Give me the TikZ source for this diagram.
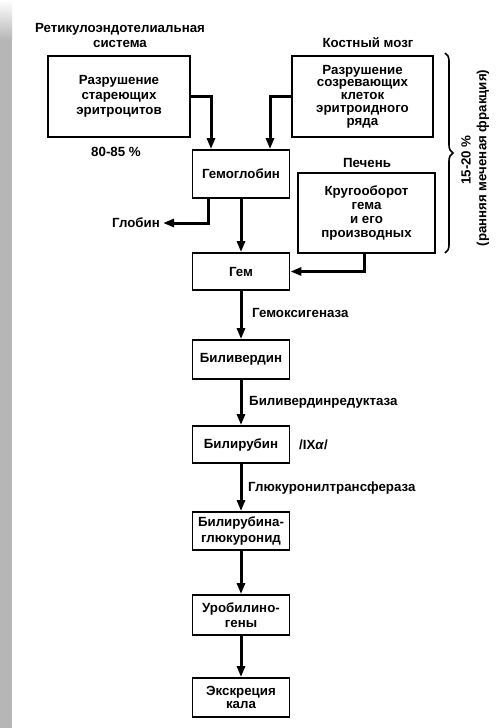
\documentclass[tikz,border=0pt]{standalone}
\usepackage{fontspec}
\setmainfont{Liberation Sans}
\usetikzlibrary{arrows.meta,decorations.pathreplacing}
\definecolor{strip}{RGB}{182,182,182}
\begin{document}
\begin{tikzpicture}[x=1pt,y=-1pt,
  font=\fontsize{13.3}{15}\selectfont\bfseries,
  blk/.style={draw,line width=1.8pt,inner sep=0pt,align=center},
  lbl/.style={inner sep=0pt,align=center},
  arr/.style={line width=3pt,-{Triangle[width=8pt,length=11pt]}}]
\useasboundingbox (0,0) rectangle (497,728);
\fill[white] (0,0) rectangle (497,728);
\fill[strip] (0,0) rectangle (12,728);
\shade[top color=white,bottom color=strip] (0,0) rectangle (12,40);
% boxes
\node[blk,minimum width=142pt,minimum height=81pt] (b1) at (119,96.5) {Разрушение\\стареющих\\эритроцитов};
\node[blk,minimum width=141pt,minimum height=81pt,font=\fontsize{13.3}{12.8}\selectfont\bfseries] (km) at (362.5,96.5) {Разрушение\\созревающих\\клеток\\эритроидного\\ряда};
\node[blk,minimum width=137pt,minimum height=80pt,font=\fontsize{13.3}{14}\selectfont\bfseries] (pe) at (366.5,213) {Кругооборот\\гема\\и его\\производных};
\node[blk,minimum width=97pt,minimum height=48pt] (hb) at (241,174) {Гемоглобин};
\node[blk,minimum width=97pt,minimum height=37pt] (gem) at (241,271.5) {Гем};
\node[blk,minimum width=97pt,minimum height=39pt] (bv) at (241,359.5) {Биливердин};
\node[blk,minimum width=97pt,minimum height=37pt] (br) at (241,444.5) {Билирубин};
\node[blk,minimum width=97pt,minimum height=38pt,font=\fontsize{13.3}{16}\selectfont\bfseries] (bg) at (241,531) {Билирубина-\\глюкуронид};
\node[blk,minimum width=97pt,minimum height=40pt] (ub) at (241,615) {Уробилино-\\гены};
\node[blk,minimum width=97pt,minimum height=39pt,font=\fontsize{13.3}{13.5}\selectfont\bfseries] (ex) at (241,697.5) {Экскреция\\кала};
% labels
\node[lbl] (res) at (120,35.5) {Ретикулоэндотелиальная\\система};
\node[lbl] (p1) at (116,152) {80-85 \%};
\node[lbl] (kml) at (368,43) {Костный мозг};
\node[lbl] (pel) at (367,163) {Печень};
\node[lbl] (glob) at (136,223) {Глобин};
\node[lbl,anchor=west] (e1) at (252,313) {Гемоксигеназа};
\node[lbl,anchor=west] (e2) at (249,402) {Биливердинредуктаза};
\node[lbl,anchor=west] (e3) at (248,488) {Глюкуронилтрансфераза};
\node[lbl,anchor=west] (ix) at (299,445) {/IX\textit{α}/};
\node[lbl,rotate=90] (p2) at (466,160) {15-20 \%};
\node[lbl,rotate=90] (p3) at (483,158) {(ранняя меченая фракция)};
% brace
\draw[line width=1.6pt,decorate,decoration={brace,amplitude=8pt}] (445,53) -- (445,253);
% connectors
\draw[arr] (b1.east) -| ([xshift=-30pt]hb.north);
\draw[arr] (km.west) -| ([xshift=29pt]hb.north);
\draw[arr] ([xshift=-33pt]hb.south) |- ([xshift=3pt]glob.east);
\draw[arr] (hb.south) -- (gem.north);
\draw[arr] ([xshift=-2pt]pe.south) |- (gem.east);
\draw[arr] (gem.south) -- (bv.north);
\draw[arr] (bv.south) -- (br.north);
\draw[arr] (br.south) -- (bg.north);
\draw[arr] (bg.south) -- (ub.north);
\draw[arr] (ub.south) -- (ex.north);
\end{tikzpicture}
\end{document}
